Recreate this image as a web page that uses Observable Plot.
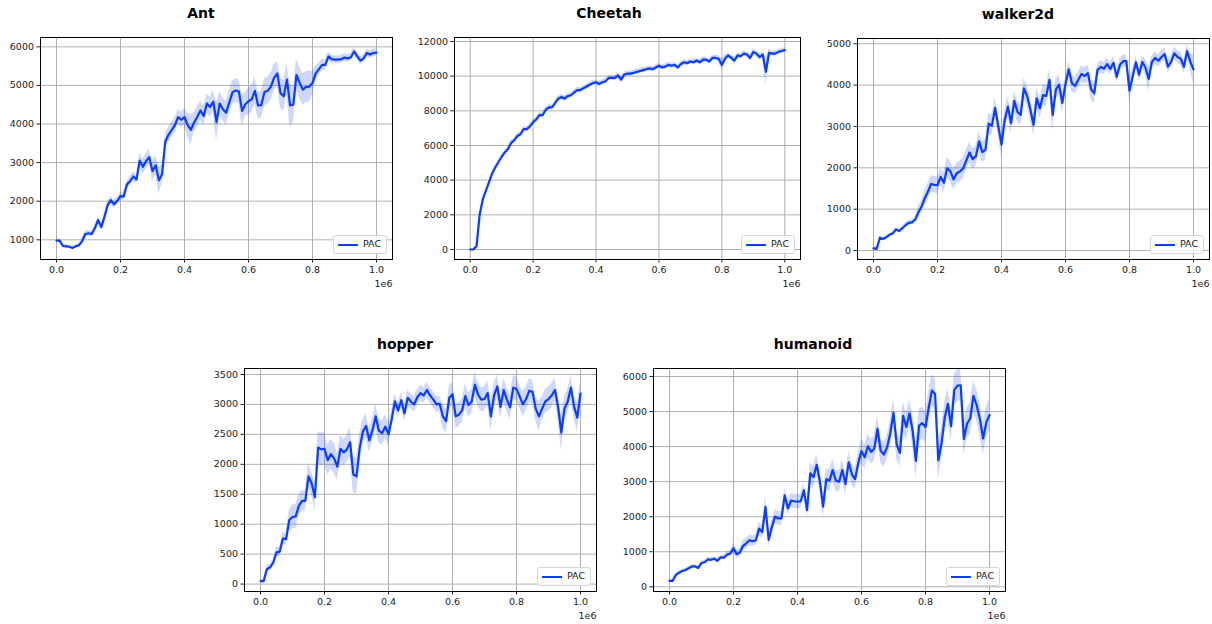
<!DOCTYPE html>
<html>
<head>
<meta charset="utf-8">
<script src="https://cdn.jsdelivr.net/npm/d3@7"></script>
<script src="https://cdn.jsdelivr.net/npm/@observablehq/plot@0.6"></script>
<style>
  html, body { margin: 0; padding: 0; background: #fff; }
  #root { position: relative; width: 1212px; height: 624px; overflow: hidden; font-family: "DejaVu Sans", sans-serif; }
  .panel { position: absolute; }
  .panel svg { max-width: none !important; display: block; }
  .title { position: absolute; font-weight: bold; font-size: 14px; color: #000; transform: translate(-50%, -50%); white-space: nowrap; }
  .legend { position: absolute; width: 54px; height: 19px; box-sizing: border-box; border: 1px solid #d6d6d6; border-radius: 3px; background: rgba(255,255,255,0.85); }
  .legend .swatch { position: absolute; left: 4px; top: 8px; width: 20px; height: 2px; background: #0a3dff; }
  .legend .lbl { position: absolute; left: 29px; top: 2px; font-size: 9.5px; color: #222; }
</style>
</head>
<body>
<div id="root"></div>
<script>
// ---- data (x = environment steps, in units of 1e6) ----
const steps = d3.range(0, 101).map(i => i / 100);

const antMean = [980,980,840,830,820,790,830,860,960,1150,1170,1150,1300,1510,1330,1600,1900,2030,1920,2010,
  2130,2120,2430,2520,2640,2560,3050,2890,3040,3140,2780,2930,2540,2700,3540,3720,3840,3970,4180,4110,
  4180,3970,3850,4040,4190,4350,4210,4530,4440,4580,4050,4530,4380,4290,4560,4820,4870,4840,4340,4510,
  4590,4640,4860,4480,4490,4830,4860,4970,5200,5310,4800,4720,5150,4480,4500,5270,5060,4890,4960,4970,
  5060,5310,5420,5530,5530,5750,5680,5670,5670,5680,5720,5700,5730,5880,5750,5640,5700,5840,5800,5840,5850];
const antErr = [40,40,40,40,40,40,40,40,80,80,80,80,80,80,80,80,100,100,100,100,
  100,100,100,120,120,120,200,200,200,200,250,250,350,250,200,200,200,200,200,200,
  220,300,400,250,250,250,250,250,250,300,500,300,300,300,300,300,300,300,400,300,
  350,350,350,350,350,350,350,350,350,300,400,400,400,550,450,400,400,400,400,400,
  300,200,150,150,150,120,100,100,100,100,100,100,100,100,100,100,100,100,100,100,100];

const cheetahMean = [0,0,200,2000,2900,3400,3900,4400,4750,5050,5350,5600,5800,6150,6300,6550,6650,6950,6950,7100,
  7350,7500,7750,7750,8050,8200,8200,8450,8700,8800,8700,8850,8900,9050,9200,9200,9300,9400,9500,9600,
  9650,9550,9650,9700,9900,9900,9900,10050,9800,10100,10150,10150,10200,10250,10300,10350,10400,10450,10400,10500,
  10600,10500,10550,10650,10600,10650,10500,10700,10800,10750,10850,10800,10900,10800,10950,10950,10850,11050,11050,11000,
  10650,11000,11200,11050,10900,11200,11150,11300,11250,11050,11400,11300,11100,11250,10250,11350,11300,11300,11400,11450,11500];
const cheetahErr = [30,30,50,80,80,80,80,80,80,80,100,120,120,150,150,150,150,150,150,150,
  150,150,150,150,150,150,150,150,150,150,150,150,150,150,150,150,150,150,150,150,
  150,150,150,150,150,150,150,180,200,150,150,150,150,150,150,150,150,150,150,150,
  150,150,150,150,150,150,150,150,150,150,150,150,150,150,150,150,150,150,150,200,
  350,200,150,150,200,150,150,150,150,200,150,150,200,150,800,200,150,150,150,150,150];

const walkerMean = [50,40,310,280,320,380,410,510,470,540,610,670,680,740,920,1060,1260,1420,1610,1590,
  1580,1780,1640,1990,1920,1720,1870,1910,1980,2180,2370,2210,2280,2640,2380,2440,3070,3020,3450,3010,
  2560,3150,3480,3080,3620,3350,3280,3920,3740,3420,3040,3680,3440,3760,3740,4130,3280,3900,4010,3570,
  4020,4380,4050,3980,4130,4270,4220,4290,3900,3800,4370,4440,4400,4510,4390,4540,4200,4490,4580,4580,
  3870,4210,4550,4250,4560,4420,4150,4560,4660,4590,4680,4750,4450,4560,4770,4680,4640,4440,4820,4570,4380];
const walkerErr = [40,40,40,40,40,40,40,40,40,40,60,60,60,60,150,150,180,200,200,200,
  200,200,250,250,250,250,250,250,250,250,250,250,250,250,250,250,250,250,250,250,
  300,250,250,250,250,250,250,250,250,250,250,250,250,250,250,250,400,250,250,250,
  200,200,200,200,200,200,200,200,250,250,150,150,150,150,150,150,150,150,150,150,
  300,200,150,150,150,200,300,150,150,150,150,150,150,150,150,150,150,150,150,200,350];

const hopperMean = [50,50,250,280,360,530,540,760,750,1070,1120,1130,1310,1390,1390,1800,1680,1450,2280,2250,
  2260,2070,2170,2100,1960,2260,2200,2250,2370,1830,1800,2270,2550,2640,2400,2570,2800,2560,2520,2630,
  2500,2750,3050,2900,3070,2850,3110,3050,3000,3120,3190,3150,3240,3150,3080,3000,3010,2800,2720,3110,
  3170,2800,2830,2900,3140,2990,3050,3330,3160,3080,3090,3190,2800,3150,3300,2960,3240,3080,2950,3280,
  3260,3130,3000,3090,3230,3210,2930,2800,2930,3050,3090,3150,3240,2960,2530,2930,3050,3280,2960,2780,3180];
const hopperErr = [30,30,50,60,60,80,80,100,100,170,200,200,170,170,170,200,200,220,270,270,
  270,250,250,250,220,220,220,220,250,300,300,250,200,200,200,200,200,200,200,200,
  200,150,130,130,130,130,130,130,130,130,130,130,130,130,130,130,130,200,200,200,
  200,200,200,200,200,200,200,200,200,200,200,200,250,200,200,200,200,200,200,200,
  200,200,200,200,200,200,200,250,200,200,200,200,200,200,300,200,200,200,200,250,200];

const humanoidMean = [170,170,340,400,450,480,530,580,580,540,680,700,780,770,800,740,840,830,920,950,
  1100,930,980,1170,1240,1330,1300,1330,1660,1560,2280,1340,1710,2000,1950,1950,2610,2240,2460,2440,
  2430,2440,2750,2190,3240,3130,3480,3010,2290,3070,3030,3330,3030,3000,3330,2930,3550,3210,3070,3540,
  3870,3700,4010,3850,3940,4510,3880,3770,3980,4380,4960,4060,3820,4880,4560,4950,4440,3590,4600,4670,
  4560,5110,5600,5500,3610,4090,4820,5220,4580,5620,5740,5750,4220,4660,4810,5450,5180,4790,4230,4690,4900];
const humanoidErr = [40,40,50,50,50,50,50,50,50,50,60,60,60,60,60,60,60,60,80,80,
  150,120,120,150,150,150,150,150,180,200,300,200,200,200,200,200,200,200,200,200,
  200,200,200,200,300,300,300,300,300,300,300,300,300,300,300,300,300,300,300,300,
  350,350,350,350,350,350,350,350,350,350,400,400,400,400,400,400,450,500,450,450,
  450,450,450,450,550,450,450,450,450,450,450,450,450,450,450,450,450,450,450,450,450];

const xTicks = [0, 0.2, 0.4, 0.6, 0.8, 1.0];
const panels = [
  {name: "Ant",      mean: antMean,      err: antErr,      box: [40, 37, 392, 259],   yDomain: [490, 6241],  yTicks: [1000,2000,3000,4000,5000,6000], titleX: 201},
  {name: "Cheetah",  mean: cheetahMean,  err: cheetahErr,  box: [454, 37, 800, 259],  yDomain: [-577, 12231], yTicks: [0,2000,4000,6000,8000,10000,12000], titleX: 609},
  {name: "walker2d", mean: walkerMean,   err: walkerErr,   box: [857, 38, 1209, 259], yDomain: [-217, 5128], yTicks: [0,1000,2000,3000,4000,5000], titleX: 1018},
  {name: "hopper",   mean: hopperMean,   err: hopperErr,   box: [244, 368, 596, 591], yDomain: [-124, 3600], yTicks: [0,500,1000,1500,2000,2500,3000,3500], titleX: 405},
  {name: "humanoid", mean: humanoidMean, err: humanoidErr, box: [653, 368, 1005, 591], yDomain: [-134, 6228], yTicks: [0,1000,2000,3000,4000,5000,6000], titleX: 813}
];

const root = document.getElementById("root");
const ML = 45, MR = 12, MT = 6, MB = 36;
const lineColor = "#0a3dff";

for (const p of panels) {
  const [x0, y0, x1, y1] = p.box;
  const rows = steps.map((s, i) => ({x: s, y: p.mean[i], lo: p.mean[i] - p.err[i], hi: p.mean[i] + p.err[i]}));
  const W = (x1 - x0) + ML + MR, H = (y1 - y0) + MT + MB;
  const chart = Plot.plot({
    width: W,
    height: H,
    marginLeft: ML, marginRight: MR, marginTop: MT, marginBottom: MB,
    style: {fontFamily: "DejaVu Sans, sans-serif", fontSize: "9.5px", color: "#222", background: "white", overflow: "visible", maxWidth: "none"},
    x: {domain: [-0.05, 1.05], ticks: xTicks, tickFormat: d => d.toFixed(1), tickSize: 3.5, tickPadding: 3, label: null},
    y: {domain: p.yDomain, ticks: p.yTicks, tickFormat: d => String(d), tickSize: 3.5, tickPadding: 3, label: null},
    marks: [
      Plot.gridX(xTicks, {stroke: "#b0b0b0", strokeOpacity: 1, strokeWidth: 1}),
      Plot.gridY(p.yTicks, {stroke: "#b0b0b0", strokeOpacity: 1, strokeWidth: 1}),
      Plot.areaY(rows, {x: "x", y1: "lo", y2: "hi", fill: lineColor, fillOpacity: 0.2}),
      Plot.lineY(rows, {x: "x", y: "y", stroke: lineColor, strokeWidth: 2.2}),
      Plot.frame({stroke: "#000", strokeWidth: 1}),
      Plot.axisX({ticks: xTicks, tickFormat: d => d.toFixed(1), tickSize: 3.5, tickPadding: 3, label: null}),
      Plot.axisY({ticks: p.yTicks, tickFormat: d => String(d), tickSize: 3.5, tickPadding: 3, label: null}),
      Plot.text(["1e6"], {frameAnchor: "bottom-right", dy: 27, dx: 0, textAnchor: "end", fontSize: 9.5, fill: "#222"})
    ]
  });
  const wrap = document.createElement("div");
  wrap.className = "panel";
  wrap.style.left = (x0 - ML) + "px";
  wrap.style.top = (y0 - MT) + "px";
  wrap.style.width = W + "px";
  wrap.style.height = H + "px";
  wrap.appendChild(chart);
  root.appendChild(wrap);

  const t = document.createElement("div");
  t.className = "title";
  t.textContent = p.name;
  t.style.left = p.titleX + "px";
  t.style.top = (y0 - 24) + "px";
  root.appendChild(t);

  const lg = document.createElement("div");
  lg.className = "legend";
  lg.style.left = (x1 - 5 - 54) + "px";
  lg.style.top = (y1 - 5 - 19) + "px";
  lg.innerHTML = '<div class="swatch"></div><div class="lbl">PAC</div>';
  root.appendChild(lg);
}
</script>
</body>
</html>
